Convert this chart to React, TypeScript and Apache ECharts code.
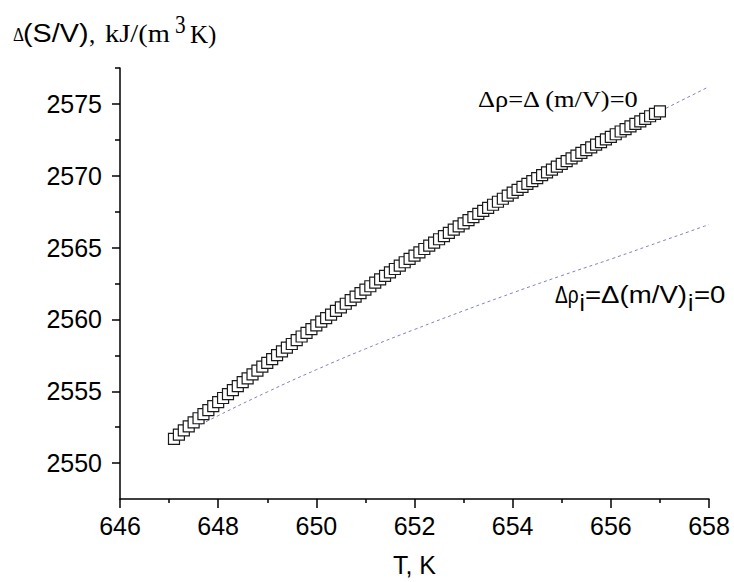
import React, { useEffect, useRef } from "react";
import * as echarts from "echarts";

// Temperature grid of the square markers (K)
const T = [
  647.1, 647.2, 647.3, 647.4, 647.5, 647.6, 647.7, 647.8, 647.9, 648.0,
  648.1, 648.2, 648.3, 648.4, 648.5, 648.6, 648.7, 648.8, 648.9, 649.0,
  649.1, 649.2, 649.3, 649.4, 649.5, 649.6, 649.7, 649.8, 649.9, 650.0,
  650.1, 650.2, 650.3, 650.4, 650.5, 650.6, 650.7, 650.8, 650.9, 651.0,
  651.1, 651.2, 651.3, 651.4, 651.5, 651.6, 651.7, 651.8, 651.9, 652.0,
  652.1, 652.2, 652.3, 652.4, 652.5, 652.6, 652.7, 652.8, 652.9, 653.0,
  653.1, 653.2, 653.3, 653.4, 653.5, 653.6, 653.7, 653.8, 653.9, 654.0,
  654.1, 654.2, 654.3, 654.4, 654.5, 654.6, 654.7, 654.8, 654.9, 655.0,
  655.1, 655.2, 655.3, 655.4, 655.5, 655.6, 655.7, 655.8, 655.9, 656.0,
  656.1, 656.2, 656.3, 656.4, 656.5, 656.6, 656.7, 656.8, 656.9, 657.0,
];

// Δ(S/V) values of the square markers, kJ/(m3 K)
const dSV = [
  2551.69, 2551.98, 2552.27, 2552.55, 2552.84, 2553.12, 2553.41, 2553.69, 2553.97, 2554.25,
  2554.53, 2554.8, 2555.08, 2555.35, 2555.63, 2555.9, 2556.17, 2556.44, 2556.71, 2556.98,
  2557.24, 2557.51, 2557.77, 2558.03, 2558.29, 2558.56, 2558.81, 2559.07, 2559.33, 2559.58,
  2559.84, 2560.09, 2560.34, 2560.59, 2560.84, 2561.09, 2561.34, 2561.58, 2561.83, 2562.07,
  2562.31, 2562.56, 2562.79, 2563.03, 2563.27, 2563.51, 2563.74, 2563.98, 2564.21, 2564.44,
  2564.67, 2564.9, 2565.13, 2565.35, 2565.58, 2565.8, 2566.03, 2566.25, 2566.47, 2566.69,
  2566.91, 2567.12, 2567.34, 2567.55, 2567.77, 2567.98, 2568.19, 2568.4, 2568.61, 2568.82,
  2569.02, 2569.23, 2569.43, 2569.63, 2569.83, 2570.04, 2570.23, 2570.43, 2570.63, 2570.82,
  2571.02, 2571.21, 2571.4, 2571.59, 2571.78, 2571.97, 2572.16, 2572.34, 2572.53, 2572.71,
  2572.89, 2573.08, 2573.25, 2573.43, 2573.61, 2573.79, 2573.96, 2574.14, 2574.31, 2574.48,
];

// Dashed reference curves
const lineT = [647.1, 648, 649, 650, 651, 652, 653, 654, 655, 656, 657, 658];
const upperCurve = [2551.69, 2554.25, 2556.98, 2559.58, 2562.07, 2564.44, 2566.69, 2568.82, 2570.82, 2572.71, 2574.48, 2576.2];
const lowerCurve = [2551.75, 2553.3, 2554.95, 2556.5, 2557.95, 2559.3, 2560.6, 2561.85, 2563.05, 2564.2, 2565.4, 2566.6];

// Axis ticks
const yMajor = [2550, 2555, 2560, 2565, 2570, 2575];
const yMinor = [2552.5, 2557.5, 2562.5, 2567.5, 2572.5, 2577.5];

const SANS = "'Liberation Sans', Arial, sans-serif";
const SERIF = "'Liberation Serif', 'Times New Roman', serif";

function txt(text: string, x: number, y: number, fontFamily: string, fontSize: number, scaleX = 1.1) {
  return {
    type: "text",
    x,
    y,
    scaleX,
    silent: true,
    style: {
      text,
      fontFamily,
      fontSize,
      fill: "#000",
      textAlign: "left",
      textVerticalAlign: "middle",
    },
  };
}

export default function App() {
  const ref = useRef<HTMLDivElement>(null);
  useEffect(() => {
    document.body.style.margin = "0";
    const chart = echarts.init(ref.current!, null, { renderer: "svg" });
    const axisLine = { show: true, lineStyle: { color: "#000", width: 1.5 } };
    chart.setOption({
      animation: false,
      backgroundColor: "#fff",
      grid: { left: 120, right: 25, top: 68, bottom: 82, containLabel: false },
      xAxis: {
        type: "value",
        min: 646,
        max: 658,
        interval: 2,
        name: "T, K",
        nameLocation: "middle",
        nameGap: 53,
        nameTextStyle: { fontFamily: SANS, fontSize: 25, color: "#000" },
        axisLine,
        axisTick: { show: true, length: 9, lineStyle: { color: "#000", width: 1.5 } },
        minorTick: { show: true, splitNumber: 2, length: 4, lineStyle: { color: "#000", width: 1.5 } },
        axisLabel: { fontFamily: SANS, fontSize: 25, color: "#000", margin: 14, formatter: (v: number) => String(v) },
        splitLine: { show: false },
      },
      yAxis: [
        {
          type: "value",
          position: "left",
          min: 2547.5,
          max: 2577.5,
          interval: 2.5,
          axisLine,
          axisTick: { show: true, length: 8, customValues: yMajor, lineStyle: { color: "#000", width: 1.5 } },
          axisLabel: {
            fontFamily: SANS,
            fontSize: 25,
            color: "#000",
            margin: 18,
            customValues: yMajor,
            formatter: (v: number) => String(v),
          },
          splitLine: { show: false },
        },
        {
          type: "value",
          position: "left",
          min: 2547.5,
          max: 2577.5,
          interval: 2.5,
          axisLine: { show: false },
          axisTick: { show: true, length: 5, customValues: yMinor, lineStyle: { color: "#000", width: 1.5 } },
          axisLabel: { show: false },
          splitLine: { show: false },
        },
      ],
      series: [
        {
          type: "line",
          data: lineT.map((t, i) => [t, upperCurve[i]]),
          smooth: true,
          showSymbol: false,
          lineStyle: { color: "#8080c4", width: 1, type: [3, 3] },
          z: 1,
        },
        {
          type: "line",
          data: lineT.map((t, i) => [t, lowerCurve[i]]),
          smooth: true,
          showSymbol: false,
          lineStyle: { color: "#8080c4", width: 1, type: [3, 3] },
          z: 1,
        },
        {
          type: "scatter",
          data: T.map((t, i) => [t, dSV[i]]),
          symbol: "rect",
          symbolSize: 11,
          itemStyle: { color: "#fff", borderColor: "#1a1a1a", borderWidth: 1.2, opacity: 1 },
          z: 3,
        },
      ],
      graphic: [
        txt("Δ", 13, 35, SERIF, 19, 0.9),
        txt("(S/V)", 23, 34, SANS, 25, 1.15),
        txt(",", 89, 34, SERIF, 25, 1),
        txt("kJ/(m", 105, 34, SERIF, 25, 1.14),
        txt("3", 175, 24.5, SERIF, 25, 0.85),
        txt("K)", 190, 34, SERIF, 25, 1),
        txt("Δρ=Δ (m/V)=0", 478, 99, SERIF, 24, 1.1),
        txt("Δρ", 555, 295, SANS, 23, 0.83),
        txt("i", 579.5, 302, SANS, 24, 1),
        txt("=Δ(m/V)", 585, 295, SANS, 24, 1.15),
        txt("i", 688, 302, SANS, 24, 1),
        txt("=0", 694, 295, SANS, 24, 1.15),
      ],
    });
    return () => chart.dispose();
  }, []);
  return <div ref={ref} style={{ width: 734, height: 582 }} />;
}
